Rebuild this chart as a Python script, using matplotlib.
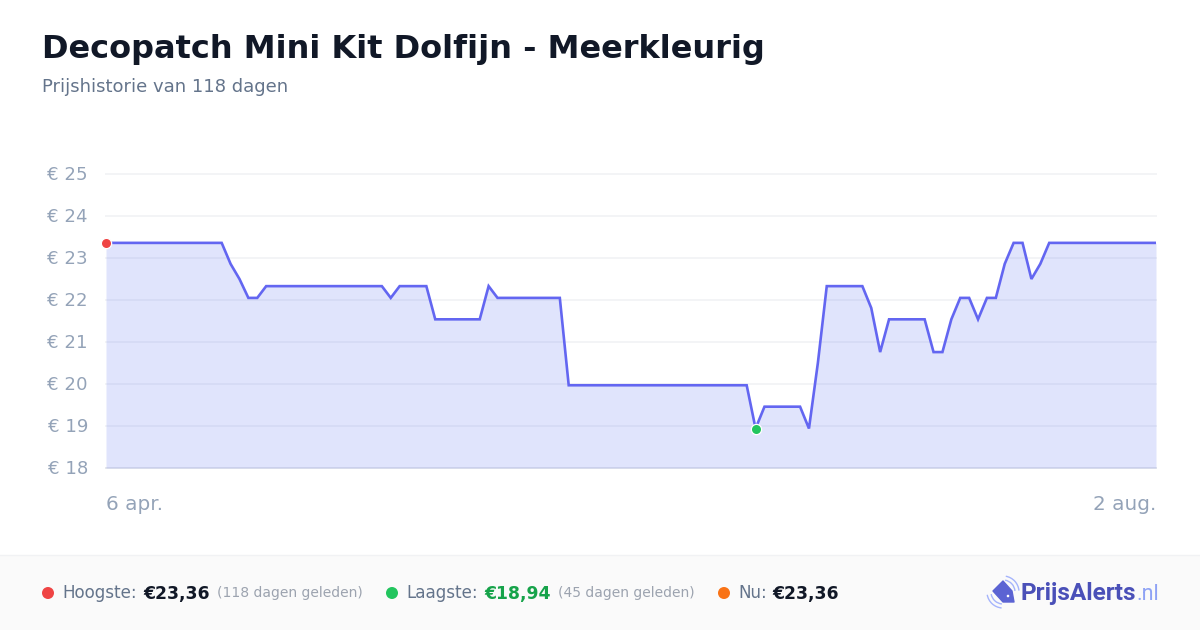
import matplotlib
matplotlib.use('Agg')
import matplotlib.pyplot as plt
from matplotlib.patches import Polygon, Rectangle, Arc, Circle
from matplotlib.transforms import ScaledTranslation
import numpy as np

W, H = 1200, 630

# prijzen per dag
prices = (
    [23.36] * 14 + [22.86, 22.50, 22.05, 22.05]
    + [22.33] * 14 + [22.05] + [22.33] * 4
    + [21.54] * 6 + [22.33]
    + [22.05] * 8
    + [19.97] * 21
    + [18.94]
    + [19.46] * 5
    + [18.94, 20.50]
    + [22.33] * 5 + [21.81, 20.76]
    + [21.54] * 5 + [20.76, 20.76, 21.54, 22.05, 22.05, 21.54, 22.05, 22.05, 22.86]
    + [23.36] * 2 + [22.50, 22.86]
    + [23.36] * 13
)
days = np.arange(len(prices))
y_ticks = [18, 19, 20, 21, 22, 23, 24, 25]
x_labels = ['6 apr.', '2 aug.']
high_idx = 0
low_idx = 73

title = 'Decopatch Mini Kit Dolfijn - Meerkleurig'
subtitle = 'Prijshistorie van 118 dagen'

LINE = '#6366f1'

fig = plt.figure(figsize=(W / 100, H / 100), dpi=100, facecolor='white')

# overlay in pixels voor tekst en footer
bg = fig.add_axes([0, 0, 1, 1], zorder=0)
bg.set_xlim(0, W)
bg.set_ylim(H, 0)
bg.axis('off')
bg.add_patch(Rectangle((0, 555), W, 75, fc='#fafafa', ec='none'))
bg.plot([0, W], [554.5, 554.5], color='#f1f2f4', lw=1)

ax = fig.add_axes([106 / W, 1 - 468 / H, 1050 / W, 294 / H], zorder=1)
ax.patch.set_alpha(0)
ax.set_xlim(0, len(prices) - 1)
ax.set_ylim(18, 25)
for t in y_ticks[1:]:
    ax.axhline(t, color='#f3f4f6', lw=1.4, zorder=1, clip_on=False)
ax.axhline(18, color='#e5e7eb', lw=1.4, zorder=1, clip_on=False)
ax.fill_between(days, prices, 18, color='#6478f1', alpha=0.2, lw=0, zorder=2)
ax.plot(days, prices, color=LINE, lw=1.9, zorder=3, solid_joinstyle='miter', solid_capstyle='butt')
ax.plot(days[high_idx], prices[high_idx], 'o', ms=7.4, mfc='#ef4444', mec='white', mew=0.9, clip_on=False, zorder=4)
ax.plot(days[low_idx], prices[low_idx], 'o', ms=7.4, mfc='#22c55e', mec='white', mew=0.9, clip_on=False, zorder=4)
for s in ax.spines.values():
    s.set_visible(False)
ax.set_xticks([])
ax.set_yticks(y_ticks)
ax.set_yticklabels([f'€ {t}' for t in y_ticks], fontsize=13.1, color='#94a3b8')
ax.tick_params(axis='y', length=0, pad=13)
# labels 1 px omhoog
for lab in ax.get_yticklabels():
    lab.set_transform(lab.get_transform() + ScaledTranslation(0, 1 / 100, fig.dpi_scale_trans))

top = fig.add_axes([0, 0, 1, 1], zorder=2)
top.set_xlim(0, W)
top.set_ylim(H, 0)
top.axis('off')
top.patch.set_alpha(0)


def txt(x, y, s, size, color, weight='normal', ha='left', family='DejaVu Sans'):
    return top.text(x, y, s, fontsize=size, color=color, fontweight=weight, ha=ha,
                    va='baseline', family=family)


txt(42, 58, title, 23, '#111827', 'bold')
txt(42, 92, subtitle, 13, '#64748b')
txt(106, 510, x_labels[0], 14.4, '#94a3b8')
txt(1156, 510, x_labels[1], 14.4, '#94a3b8', ha='right')

# footer
top.add_patch(Circle((48, 593), 6, fc='#ef4444', ec='none'))
txt(62, 598.5, 'Hoogste:', 12.1, '#64748b')
txt(143, 598.5, '€23,36', 12.4, '#111827', 'bold')
txt(217, 597.5, '(118 dagen geleden)', 10, '#9ca3af')
top.add_patch(Circle((392, 593), 6, fc='#22c55e', ec='none'))
txt(406, 598.5, 'Laagste:', 12.1, '#64748b')
txt(484, 598.5, '€18,94', 12.4, '#16a34a', 'bold')
txt(558, 597.5, '(45 dagen geleden)', 10, '#9ca3af')
top.add_patch(Circle((724, 593), 6, fc='#f97316', ec='none'))
txt(738, 598.5, 'Nu:', 12.1, '#64748b')
txt(772, 598.5, '€23,36', 12.4, '#111827', 'bold')

# logo
top.add_patch(Polygon([[993, 591], [1003, 581], [1012, 591], [1014, 602], [1003, 602]],
                      closed=True, fc='#5b63d3', ec='#5b63d3', lw=1, joinstyle='round'))
top.add_patch(Circle((1008, 596), 1.3, fc='white', ec='none'))
for r in [12, 16]:
    top.add_patch(Arc((1003, 592), 2 * r, 2 * r, theta1=-80, theta2=-5, ec='#a5b4fc', lw=1))
    top.add_patch(Arc((1003, 592), 2 * r, 2 * r, theta1=95, theta2=170, ec='#a5b4fc', lw=1))
txt(1021, 600, 'PrijsAlerts', 17.6, '#4a50b8', 'bold', family='Roboto')
txt(1136, 600, '.nl', 15.5, '#8ea2f5', 'normal', family='Roboto')

fig.savefig('out.png', dpi=100)
